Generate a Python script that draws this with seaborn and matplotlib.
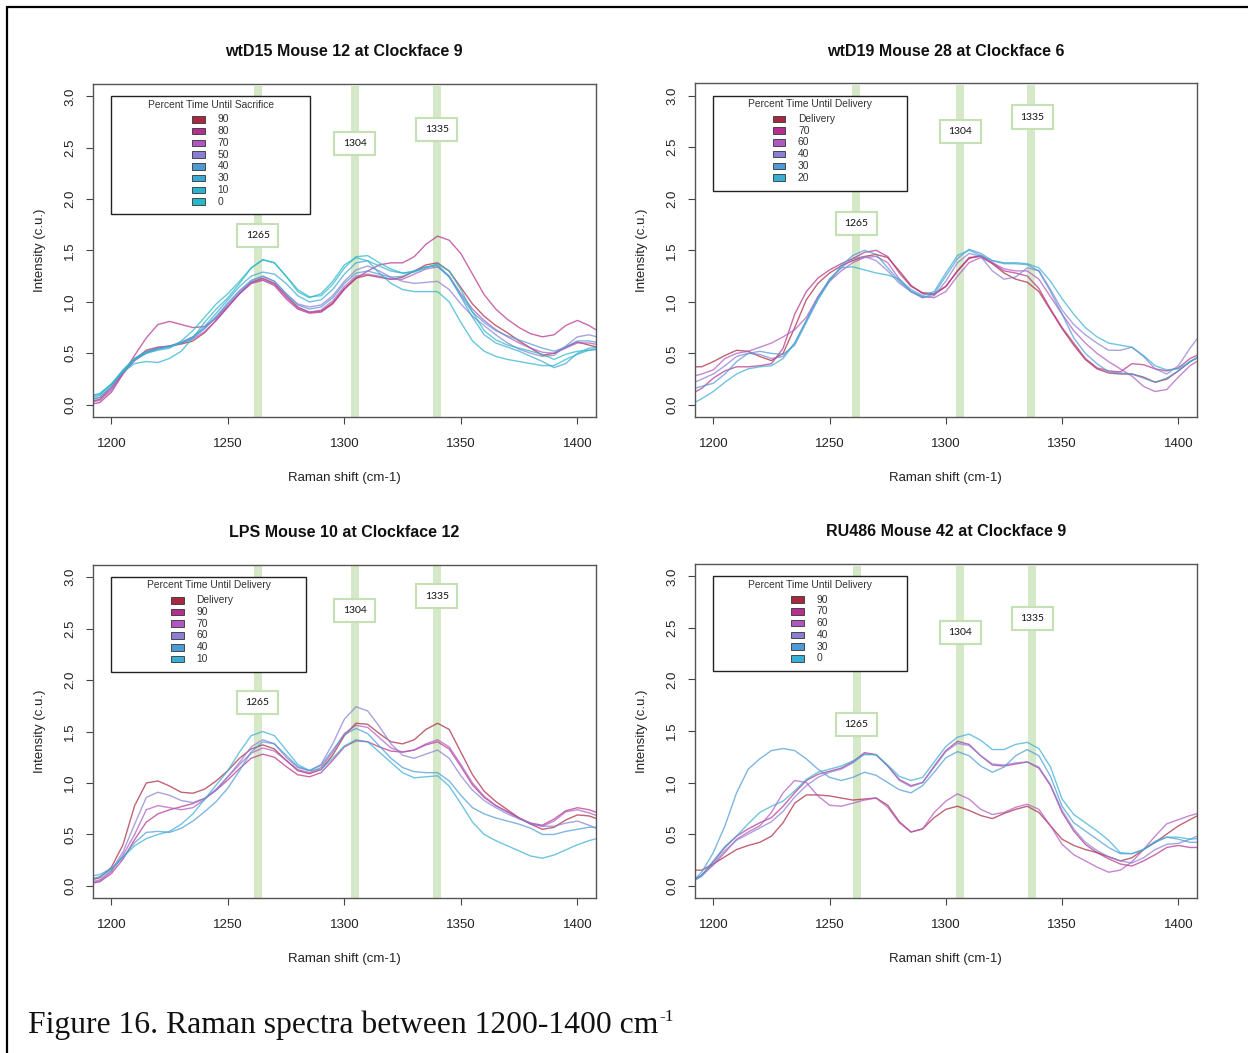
import matplotlib
matplotlib.use("Agg")
import matplotlib.pyplot as plt
from matplotlib.patches import Rectangle
import pandas as pd
import seaborn as sns

# Raman shift sampling (cm-1)
shift = [1190, 1195, 1200, 1205, 1210, 1215, 1220, 1225, 1230, 1235, 1240,
         1245, 1250, 1255, 1260, 1265, 1270, 1275, 1280, 1285, 1290, 1295,
         1300, 1305, 1310, 1315, 1320, 1325, 1330, 1335, 1340, 1345, 1350,
         1355, 1360, 1365, 1370, 1375, 1380, 1385, 1390, 1395, 1400, 1405, 1410]

peak_labels = ["1265", "1304", "1335"]

# ---- wtD15 Mouse 12 ----
tl_labels = ["90", "80", "70", "50", "40", "30", "10", "0"]
tl_90 = [0.03, 0.05, 0.16, 0.31, 0.44, 0.53, 0.56, 0.57, 0.59, 0.62, 0.70, 0.82, 0.95, 1.08, 1.19, 1.23, 1.18, 1.06, 0.95, 0.90, 0.91, 0.99, 1.13, 1.23, 1.26, 1.24, 1.22, 1.24, 1.30, 1.36, 1.38, 1.30, 1.14, 0.98, 0.86, 0.77, 0.70, 0.62, 0.55, 0.48, 0.50, 0.56, 0.61, 0.58, 0.55]
tl_80 = [0.00, 0.02, 0.12, 0.30, 0.48, 0.65, 0.78, 0.81, 0.78, 0.75, 0.76, 0.84, 0.96, 1.08, 1.18, 1.21, 1.16, 1.03, 0.93, 0.89, 0.90, 0.98, 1.12, 1.23, 1.30, 1.36, 1.38, 1.38, 1.44, 1.56, 1.64, 1.60, 1.47, 1.27, 1.07, 0.93, 0.83, 0.75, 0.69, 0.66, 0.68, 0.77, 0.82, 0.77, 0.70]
tl_70 = [0.02, 0.04, 0.14, 0.30, 0.43, 0.51, 0.55, 0.57, 0.60, 0.64, 0.71, 0.82, 0.95, 1.08, 1.18, 1.22, 1.17, 1.05, 0.94, 0.90, 0.92, 1.01, 1.15, 1.25, 1.27, 1.25, 1.22, 1.22, 1.27, 1.32, 1.34, 1.25, 1.08, 0.93, 0.82, 0.73, 0.66, 0.60, 0.55, 0.51, 0.50, 0.55, 0.60, 0.60, 0.58]
tl_50 = [0.05, 0.07, 0.17, 0.32, 0.43, 0.50, 0.54, 0.57, 0.61, 0.66, 0.74, 0.85, 0.98, 1.10, 1.20, 1.25, 1.20, 1.08, 0.98, 0.95, 0.97, 1.06, 1.20, 1.31, 1.35, 1.30, 1.24, 1.20, 1.18, 1.19, 1.20, 1.12, 0.98, 0.86, 0.77, 0.68, 0.60, 0.54, 0.50, 0.47, 0.48, 0.57, 0.66, 0.68, 0.65]
tl_40 = [0.04, 0.07, 0.18, 0.33, 0.45, 0.52, 0.55, 0.57, 0.60, 0.65, 0.74, 0.86, 0.99, 1.11, 1.21, 1.25, 1.20, 1.08, 0.97, 0.93, 0.95, 1.04, 1.18, 1.28, 1.30, 1.27, 1.24, 1.25, 1.30, 1.34, 1.35, 1.24, 1.06, 0.90, 0.80, 0.72, 0.67, 0.63, 0.59, 0.55, 0.52, 0.56, 0.62, 0.62, 0.60]
tl_30 = [0.06, 0.09, 0.20, 0.34, 0.45, 0.51, 0.54, 0.56, 0.60, 0.66, 0.76, 0.89, 1.02, 1.15, 1.25, 1.29, 1.27, 1.18, 1.06, 1.00, 1.02, 1.12, 1.27, 1.38, 1.40, 1.35, 1.30, 1.28, 1.30, 1.34, 1.36, 1.25, 1.05, 0.85, 0.68, 0.60, 0.56, 0.52, 0.47, 0.42, 0.36, 0.40, 0.50, 0.55, 0.56]
tl_10 = [0.08, 0.10, 0.20, 0.32, 0.40, 0.42, 0.41, 0.45, 0.52, 0.65, 0.80, 0.93, 1.04, 1.18, 1.33, 1.41, 1.38, 1.25, 1.10, 1.04, 1.08, 1.20, 1.36, 1.43, 1.40, 1.28, 1.18, 1.12, 1.10, 1.10, 1.10, 1.00, 0.80, 0.62, 0.52, 0.47, 0.44, 0.42, 0.40, 0.38, 0.38, 0.44, 0.49, 0.53, 0.55]
tl_0 = [0.08, 0.11, 0.20, 0.32, 0.44, 0.50, 0.53, 0.55, 0.62, 0.72, 0.85, 0.98, 1.08, 1.20, 1.33, 1.41, 1.38, 1.25, 1.12, 1.05, 1.06, 1.17, 1.33, 1.44, 1.45, 1.38, 1.32, 1.28, 1.29, 1.33, 1.37, 1.30, 1.12, 0.90, 0.72, 0.63, 0.58, 0.55, 0.52, 0.49, 0.44, 0.49, 0.52, 0.53, 0.54]

# ---- wtD19 Mouse 28 ----
tr_labels = ["Delivery", "70", "60", "40", "30", "20"]
tr_del = [0.37, 0.37, 0.42, 0.48, 0.53, 0.52, 0.47, 0.43, 0.50, 0.75, 1.02, 1.18, 1.28, 1.35, 1.40, 1.44, 1.46, 1.43, 1.30, 1.16, 1.08, 1.07, 1.15, 1.30, 1.43, 1.44, 1.37, 1.28, 1.22, 1.19, 1.10, 0.92, 0.74, 0.58, 0.44, 0.35, 0.31, 0.30, 0.30, 0.27, 0.22, 0.25, 0.33, 0.42, 0.48]
tr_70 = [0.10, 0.16, 0.26, 0.33, 0.37, 0.37, 0.38, 0.40, 0.55, 0.88, 1.10, 1.23, 1.31, 1.37, 1.42, 1.48, 1.50, 1.44, 1.28, 1.15, 1.09, 1.08, 1.15, 1.30, 1.42, 1.45, 1.38, 1.30, 1.28, 1.25, 1.13, 0.93, 0.75, 0.60, 0.45, 0.36, 0.33, 0.32, 0.40, 0.39, 0.35, 0.33, 0.36, 0.45, 0.50]
tr_60 = [0.27, 0.30, 0.34, 0.45, 0.50, 0.52, 0.56, 0.60, 0.66, 0.73, 0.85, 1.05, 1.20, 1.30, 1.38, 1.43, 1.44, 1.38, 1.22, 1.10, 1.05, 1.04, 1.10, 1.25, 1.38, 1.43, 1.38, 1.32, 1.30, 1.30, 1.22, 1.05, 0.88, 0.72, 0.60, 0.50, 0.42, 0.35, 0.28, 0.18, 0.13, 0.15, 0.27, 0.38, 0.45]
tr_40 = [0.20, 0.25, 0.30, 0.38, 0.47, 0.50, 0.49, 0.45, 0.47, 0.60, 0.82, 1.05, 1.22, 1.33, 1.42, 1.44, 1.40, 1.30, 1.18, 1.10, 1.04, 1.06, 1.20, 1.38, 1.47, 1.44, 1.30, 1.22, 1.24, 1.33, 1.30, 1.12, 0.92, 0.78, 0.68, 0.60, 0.53, 0.53, 0.56, 0.47, 0.35, 0.30, 0.38, 0.55, 0.70]
tr_30 = [0.15, 0.18, 0.21, 0.30, 0.42, 0.50, 0.52, 0.50, 0.49, 0.58, 0.80, 1.02, 1.20, 1.35, 1.45, 1.50, 1.46, 1.33, 1.20, 1.10, 1.04, 1.08, 1.25, 1.42, 1.51, 1.47, 1.40, 1.37, 1.37, 1.36, 1.30, 1.10, 0.88, 0.65, 0.50, 0.40, 0.32, 0.31, 0.30, 0.26, 0.22, 0.26, 0.33, 0.42, 0.48]
tr_20 = [0.00, 0.06, 0.13, 0.22, 0.30, 0.35, 0.37, 0.38, 0.45, 0.60, 0.82, 1.03, 1.22, 1.33, 1.34, 1.31, 1.28, 1.26, 1.22, 1.12, 1.06, 1.10, 1.28, 1.45, 1.50, 1.45, 1.40, 1.38, 1.38, 1.37, 1.33, 1.20, 1.03, 0.88, 0.75, 0.66, 0.60, 0.58, 0.56, 0.48, 0.38, 0.34, 0.35, 0.42, 0.48]

# ---- LPS Mouse 10 ----
bl_labels = ["Delivery", "90", "70", "60", "40", "10"]
bl_del = [0.05, 0.08, 0.18, 0.40, 0.78, 1.00, 1.02, 0.97, 0.91, 0.90, 0.94, 1.02, 1.12, 1.24, 1.33, 1.37, 1.33, 1.22, 1.12, 1.09, 1.13, 1.27, 1.46, 1.58, 1.57, 1.48, 1.40, 1.38, 1.42, 1.52, 1.58, 1.52, 1.30, 1.08, 0.92, 0.82, 0.74, 0.66, 0.60, 0.55, 0.57, 0.64, 0.69, 0.68, 0.64]
bl_90 = [0.02, 0.04, 0.12, 0.26, 0.45, 0.62, 0.70, 0.74, 0.77, 0.80, 0.85, 0.93, 1.03, 1.14, 1.24, 1.28, 1.25, 1.16, 1.08, 1.06, 1.10, 1.22, 1.35, 1.41, 1.40, 1.35, 1.31, 1.30, 1.32, 1.37, 1.40, 1.33, 1.16, 0.98, 0.86, 0.78, 0.72, 0.66, 0.61, 0.59, 0.65, 0.73, 0.76, 0.74, 0.70]
bl_70 = [0.02, 0.05, 0.14, 0.30, 0.50, 0.74, 0.78, 0.76, 0.74, 0.76, 0.84, 0.94, 1.06, 1.18, 1.29, 1.34, 1.31, 1.22, 1.13, 1.10, 1.15, 1.30, 1.48, 1.56, 1.54, 1.44, 1.34, 1.30, 1.32, 1.38, 1.42, 1.35, 1.18, 1.00, 0.87, 0.78, 0.72, 0.66, 0.60, 0.58, 0.63, 0.72, 0.74, 0.71, 0.67]
bl_60 = [0.03, 0.06, 0.15, 0.33, 0.60, 0.86, 0.91, 0.88, 0.83, 0.81, 0.85, 0.93, 1.06, 1.20, 1.35, 1.42, 1.38, 1.25, 1.15, 1.12, 1.18, 1.38, 1.62, 1.74, 1.70, 1.55, 1.38, 1.27, 1.24, 1.28, 1.32, 1.24, 1.07, 0.93, 0.83, 0.76, 0.70, 0.65, 0.61, 0.58, 0.58, 0.61, 0.63, 0.59, 0.54]
bl_40 = [0.06, 0.09, 0.16, 0.28, 0.42, 0.52, 0.53, 0.52, 0.56, 0.63, 0.72, 0.82, 0.95, 1.12, 1.30, 1.40, 1.38, 1.27, 1.16, 1.12, 1.17, 1.32, 1.47, 1.53, 1.48, 1.36, 1.24, 1.15, 1.11, 1.10, 1.10, 1.02, 0.88, 0.76, 0.70, 0.66, 0.63, 0.60, 0.56, 0.50, 0.50, 0.53, 0.55, 0.57, 0.57]
bl_10 = [0.09, 0.11, 0.17, 0.28, 0.39, 0.46, 0.50, 0.53, 0.60, 0.70, 0.84, 0.98, 1.12, 1.30, 1.46, 1.50, 1.46, 1.32, 1.18, 1.12, 1.13, 1.24, 1.36, 1.42, 1.40, 1.30, 1.20, 1.10, 1.05, 1.06, 1.07, 0.97, 0.80, 0.62, 0.50, 0.44, 0.39, 0.34, 0.29, 0.27, 0.30, 0.35, 0.40, 0.44, 0.47]

# ---- RU486 Mouse 42 ----
br_labels = ["90", "70", "60", "40", "30", "0"]
br_90 = [0.15, 0.15, 0.21, 0.28, 0.35, 0.39, 0.42, 0.48, 0.61, 0.80, 0.88, 0.88, 0.87, 0.85, 0.83, 0.84, 0.85, 0.78, 0.62, 0.52, 0.55, 0.66, 0.74, 0.77, 0.73, 0.68, 0.65, 0.70, 0.74, 0.77, 0.71, 0.58, 0.45, 0.39, 0.35, 0.32, 0.28, 0.24, 0.27, 0.35, 0.42, 0.50, 0.58, 0.64, 0.70]
br_70 = [0.03, 0.10, 0.23, 0.37, 0.48, 0.55, 0.61, 0.66, 0.77, 0.90, 1.02, 1.08, 1.11, 1.14, 1.20, 1.29, 1.27, 1.16, 1.03, 0.97, 1.00, 1.16, 1.31, 1.40, 1.37, 1.26, 1.17, 1.16, 1.18, 1.20, 1.14, 0.97, 0.71, 0.53, 0.40, 0.32, 0.26, 0.21, 0.19, 0.24, 0.30, 0.37, 0.39, 0.37, 0.37]
br_60 = [0.03, 0.10, 0.20, 0.32, 0.45, 0.52, 0.58, 0.71, 0.90, 1.02, 1.00, 0.87, 0.78, 0.77, 0.80, 0.83, 0.85, 0.76, 0.61, 0.52, 0.55, 0.71, 0.82, 0.89, 0.84, 0.74, 0.69, 0.71, 0.76, 0.79, 0.74, 0.58, 0.40, 0.30, 0.24, 0.18, 0.13, 0.15, 0.23, 0.35, 0.48, 0.60, 0.64, 0.68, 0.71]
br_40 = [0.03, 0.09, 0.21, 0.34, 0.44, 0.50, 0.56, 0.62, 0.72, 0.86, 0.97, 1.05, 1.10, 1.13, 1.19, 1.28, 1.27, 1.16, 1.02, 0.96, 1.00, 1.15, 1.30, 1.38, 1.36, 1.26, 1.18, 1.17, 1.19, 1.20, 1.15, 0.98, 0.73, 0.55, 0.42, 0.34, 0.28, 0.24, 0.22, 0.27, 0.35, 0.40, 0.41, 0.45, 0.50]
br_30 = [0.02, 0.13, 0.32, 0.58, 0.90, 1.13, 1.23, 1.31, 1.33, 1.31, 1.23, 1.13, 1.05, 1.02, 1.05, 1.10, 1.07, 1.00, 0.93, 0.90, 0.97, 1.10, 1.24, 1.30, 1.26, 1.16, 1.10, 1.15, 1.26, 1.32, 1.26, 1.06, 0.77, 0.61, 0.53, 0.45, 0.37, 0.31, 0.31, 0.35, 0.42, 0.47, 0.45, 0.42, 0.42]
br_0 = [0.02, 0.10, 0.24, 0.38, 0.48, 0.60, 0.71, 0.77, 0.82, 0.92, 1.03, 1.10, 1.13, 1.16, 1.21, 1.27, 1.27, 1.17, 1.06, 1.02, 1.05, 1.20, 1.35, 1.44, 1.47, 1.41, 1.32, 1.32, 1.37, 1.39, 1.33, 1.15, 0.84, 0.69, 0.61, 0.53, 0.44, 0.32, 0.31, 0.35, 0.43, 0.47, 0.47, 0.45, 0.46]

colors8 = ["#a8283f", "#b5308c", "#b058c0", "#8a7fd2", "#4d9ad6", "#3ba8d4", "#2bb3cc", "#27b9c4"]
colors6 = ["#a8283f", "#b5308c", "#b058c0", "#8a7fd2", "#4d9ad6", "#38aed4"]

W, H = 1248, 1053
band_color = "#d5e8c8"
box_edge = "#c5e0b4"

sns.set_style("ticks")
plt.rcParams["font.family"] = ["Liberation Sans", "DejaVu Sans"]


def px_box(l, t, r, b):
    return [l / W, 1 - b / H, (r - l) / W, (b - t) / H]


def draw_panel(ax, title, legend_title, labels, curves, colors,
               bands, box_x, box_y, legend_w, swatch_x):
    df = pd.concat([pd.DataFrame({"shift": shift, "intensity": c, "group": g})
                    for g, c in zip(labels, curves)], ignore_index=True)
    for xb in bands:
        ax.axvspan(xb - 1.7, xb + 1.7, ymin=0, ymax=0.995, color=band_color, lw=0, zorder=1)
    sns.lineplot(data=df, x="shift", y="intensity", hue="group", hue_order=labels,
                 palette=dict(zip(labels, colors)), legend=False, errorbar=None,
                 linewidth=1.0, alpha=0.72, ax=ax, zorder=2)
    # peak label boxes
    bw, bh = 17.6, 0.2275
    for xb, yb, lab in zip(box_x, box_y, peak_labels):
        ax.add_patch(Rectangle((xb - bw / 2, yb - bh / 2), bw, bh, facecolor="white",
                               edgecolor=box_edge, lw=1.5, zorder=5))
        ax.text(xb, yb, lab, ha="center", va="center", fontsize=7.5,
                family=["Lato", "DejaVu Sans"], color="#111111", zorder=6)
    # R style legend
    n = len(labels)
    lh = 0.24 + n * 0.1135
    ax.add_patch(Rectangle((1200, 3.0 - lh), legend_w, lh, facecolor="white",
                           edgecolor="#222222", lw=1.0, zorder=7))
    ax.text(1200 + legend_w / 2, 2.92, legend_title, ha="center", va="center",
            fontsize=7.4, color="#333333", zorder=8)
    for i, (lab, col) in enumerate(zip(labels, colors)):
        yy = 3.0 - 0.225 - i * 0.1142
        ax.add_patch(Rectangle((swatch_x, yy - 0.032), 5.3, 0.064, facecolor=col,
                               edgecolor="#333333", lw=0.6, zorder=8))
        ax.text(swatch_x + 10.8, yy, lab, ha="left", va="center", fontsize=7.4,
                color="#333333", zorder=8)

    ax.set_xlim(1192, 1408)
    ax.set_ylim(-0.12, 3.12)
    ax.set_xticks([1200, 1250, 1300, 1350, 1400])
    ax.set_yticks([0, 0.5, 1.0, 1.5, 2.0, 2.5, 3.0])
    ax.set_yticklabels(["0.0", "0.5", "1.0", "1.5", "2.0", "2.5", "3.0"], rotation=90, va="center")
    ax.tick_params(axis="both", length=5, width=0.8, color="#444444", labelsize=9.5,
                   labelcolor="#222222")
    ax.tick_params(axis="x", pad=10)
    ax.tick_params(axis="y", pad=7)
    for s in ax.spines.values():
        s.set_color("#555555")
        s.set_linewidth(1.0)
    ax.set_title(title, fontsize=11.5, fontweight="bold", pad=20, color="#111111")
    ax.set_xlabel("Raman shift (cm-1)", fontsize=9.5, labelpad=16, color="#222222")
    ax.set_ylabel("Intensity (c.u.)", fontsize=9.5, labelpad=13, color="#222222")


fig = plt.figure(figsize=(W / 100, H / 100), dpi=100)
ax_tl = fig.add_axes(px_box(92.7, 84, 596, 417))
ax_tr = fig.add_axes(px_box(694.7, 83.3, 1197, 417.3))
ax_bl = fig.add_axes(px_box(92.7, 564.7, 596, 898.3))
ax_br = fig.add_axes(px_box(694.7, 564, 1197, 898))

draw_panel(ax_tl, "wtD15 Mouse 12 at Clockface 9", "Percent Time Until Sacrifice", tl_labels,
           [tl_90, tl_80, tl_70, tl_50, tl_40, tl_30, tl_10, tl_0], colors8,
           [1262.8, 1304.4, 1339.8], [1262.9, 1304.4, 1339.7], [1.648, 2.543, 2.68],
           85.4, 1234.7)
draw_panel(ax_tr, "wtD19 Mouse 28 at Clockface 6", "Percent Time Until Delivery", tr_labels,
           [tr_del, tr_70, tr_60, tr_40, tr_30, tr_20], colors6,
           [1261.5, 1305.9, 1336.7], [1261.4, 1306.2, 1337.1], [1.759, 2.655, 2.793],
           83.5, 1225.6)
draw_panel(ax_bl, "LPS Mouse 10 at Clockface 12", "Percent Time Until Delivery", bl_labels,
           [bl_del, bl_90, bl_70, bl_60, bl_40, bl_10], colors6,
           [1262.8, 1304.4, 1339.8], [1262.7, 1304.4, 1339.7], [1.783, 2.676, 2.816],
           83.7, 1225.8)
draw_panel(ax_br, "RU486 Mouse 42 at Clockface 9", "Percent Time Until Delivery", br_labels,
           [br_90, br_70, br_60, br_40, br_30, br_0], colors6,
           [1261.6, 1305.9, 1337.2], [1261.4, 1306.2, 1337.1], [1.562, 2.453, 2.59],
           83.5, 1233.6)

# page frame (left and top edges)
fig.add_artist(plt.Line2D([7 / W, 7 / W], [0, 1 - 7 / H], transform=fig.transFigure,
                          color="black", lw=1.6))
fig.add_artist(plt.Line2D([7 / W, 1], [1 - 7 / H, 1 - 7 / H], transform=fig.transFigure,
                          color="black", lw=1.6))

# caption
cap = fig.text(28 / W, 1 - 1025 / H, "Figure 16. Raman spectra between 1200-1400 cm",
               fontsize=22.8, family=["Liberation Serif", "DejaVu Serif"], va="center",
               color="#111111")
fig.canvas.draw()
bb = cap.get_window_extent()
fig.text(bb.x1 / W + 0.001, 1 - 1017 / H, "-1", fontsize=12.5,
         family=["Liberation Serif", "DejaVu Serif"], va="center", color="#111111")

fig.savefig("out.png", dpi=100)
